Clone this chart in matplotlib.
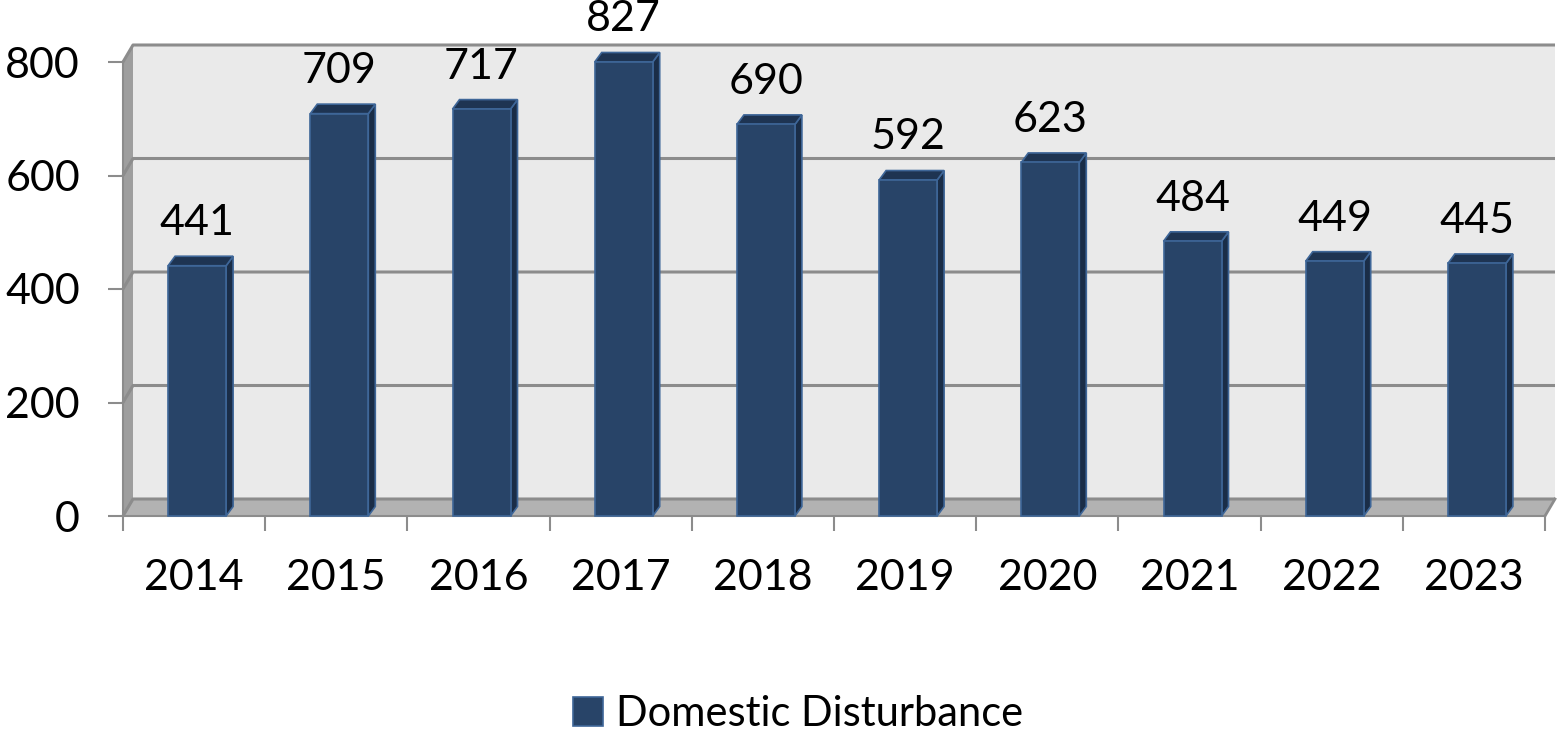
import matplotlib.pyplot as plt
import numpy as np
from matplotlib.patches import Polygon, Patch

# Domestic disturbance counts per year, drawn as Excel-style 3D columns

years = ["2014", "2015", "2016", "2017", "2018", "2019", "2020", "2021", "2022", "2023"]
counts = [441, 709, 717, 827, 690, 592, 623, 484, 449, 445]
yticks = [0, 200, 400, 600, 800]
series_name = "Domestic Disturbance"

ymax = 800
W, H = 1557, 731
plt.rcParams['font.family'] = ['Lato', 'DejaVu Sans']

fig = plt.figure(figsize=(W / 100, H / 100), dpi=100)
ax = fig.add_axes([123 / W, 1 - 516 / H, (1545 - 123) / W, (516 - 62) / H])
ax.set_xlim(0, len(years))
ax.set_ylim(0, ymax)

# pixel -> data scale
sx = len(years) / (1545 - 123)
sy = ymax / (516 - 62)

# walls and floor
wdx, wdy = 10 * sx, 17 * sy
wall_c, side_c, floor_c, grid_c = "#EAEAEA", "#9E9E9E", "#B2B2B2", "#8C8C8C"
n = len(years)
ax.add_patch(Polygon([(wdx, wdy), (n + wdx, wdy), (n + wdx, ymax + wdy), (wdx, ymax + wdy)],
                     closed=True, fc=wall_c, ec="none", clip_on=False, zorder=0))
ax.add_patch(Polygon([(0, 0), (wdx, wdy), (wdx, ymax + wdy), (0, ymax)],
                     closed=True, fc=side_c, ec="none", clip_on=False, zorder=1))
ax.add_patch(Polygon([(0, 0), (n, 0), (n + wdx, wdy), (wdx, wdy)],
                     closed=True, fc=floor_c, ec="none", clip_on=False, zorder=1))
for v in yticks:
    ax.plot([0, wdx, n + wdx], [v, v + wdy, v + wdy], color=grid_c, lw=2.2,
            clip_on=False, zorder=2, solid_capstyle="butt")
ax.plot([n, n + wdx], [0, wdy], color=grid_c, lw=2, clip_on=False, zorder=2)

# bars
bw = 58 * sx
bdx, bdy = 7 * sx, 9.5 * sy
front_c, edge_c, top_c, rside_c = "#284468", "#3E6698", "#1E3452", "#1A2D47"
for i, v in enumerate(counts):
    h = min(v, ymax)
    x0 = i + 0.5 - bw / 2 + 3 * sx
    x1 = x0 + bw
    ax.add_patch(Polygon([(x1, 0), (x1 + bdx, bdy), (x1 + bdx, h + bdy), (x1, h)],
                         closed=True, fc=rside_c, ec=edge_c, lw=1.2, clip_on=False, zorder=3))
    ax.add_patch(Polygon([(x0, h), (x1, h), (x1 + bdx, h + bdy), (x0 + bdx, h + bdy)],
                         closed=True, fc=top_c, ec=edge_c, lw=1.2, clip_on=False, zorder=3))
    ax.add_patch(Polygon([(x0, 0), (x1, 0), (x1, h), (x0, h)],
                         closed=True, fc=front_c, ec=edge_c, lw=1.2, clip_on=False, zorder=4))
    ax.annotate(str(v), (x0 + bw / 2, h), xytext=(0, 22), textcoords="offset points",
                ha="center", va="baseline", fontsize=31, color="black",
                annotation_clip=False, zorder=5)

# axes
for s in ["top", "right"]:
    ax.spines[s].set_visible(False)
for s in ["left", "bottom"]:
    ax.spines[s].set_color(grid_c)
    ax.spines[s].set_linewidth(1.5)
    ax.spines[s].set_zorder(2.5)
ax.set_yticks(yticks)
ax.set_yticklabels([str(t) for t in yticks])
ax.set_xticks(np.arange(n + 1))
ax.set_xticklabels([])
ax.set_xticks(np.arange(n) + 0.5, minor=True)
ax.set_xticklabels(years, minor=True)
ax.tick_params(axis="y", length=11, width=1.5, color=grid_c, labelsize=31, pad=20)
ax.tick_params(axis="x", which="major", length=10.5, width=1.5, color=grid_c)
ax.tick_params(axis="x", which="minor", length=0, labelsize=31, pad=31)
ax.patch.set_visible(False)

# legend
fig.legend(handles=[Patch(fc=front_c, ec=edge_c, lw=1.2, label=series_name)],
           loc="center", bbox_to_anchor=(798 / W, 1 - 714 / H), frameon=False,
           fontsize=30, handlelength=0.72, handleheight=0.72, handletextpad=0.3,
           borderpad=0, borderaxespad=0)

fig.savefig("out.png", dpi=100)
